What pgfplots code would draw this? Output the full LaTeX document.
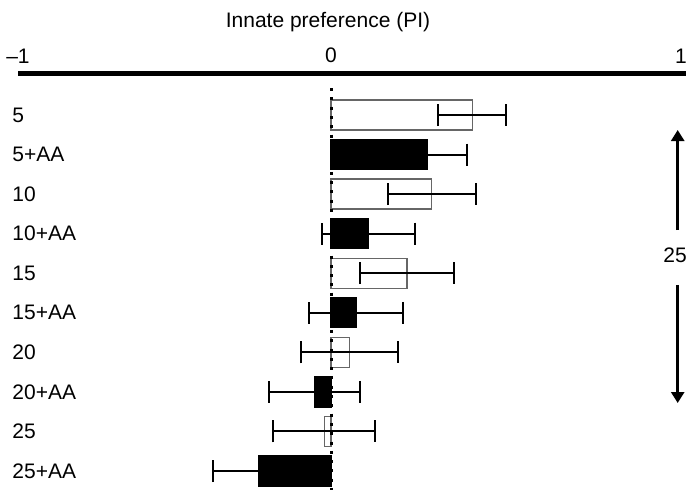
\documentclass[border=0pt]{standalone}
\usepackage{fontspec}
\setmainfont{Liberation Sans}
\usepackage{pgfplots}
\pgfplotsset{compat=1.18}
\usetikzlibrary{arrows.meta}
\pgfplotstableread{
c v e
0 0.404 0.097
2 0.288 0.125
4 0.217 0.134
6 0.052 0.139
8 -0.019 0.146
}\opendata
\pgfplotstableread{
c v e
1 0.276 0.113
3 0.107 0.134
5 0.071 0.134
7 -0.047 0.131
9 -0.207 0.130
}\aadata
\begin{document}
\fontsize{10.5}{12.6}\selectfont
\begin{tikzpicture}
\begin{axis}[
  name=ax,
  scale only axis, width=334pt, height=209.75pt,
  xmin=-0.8943, xmax=1.0143,
  ymin=-1.049, ymax=9.555, y dir=reverse,
  axis x line*=top, axis y line*=left,
  x axis line style={line width=2.25pt,-},
  y axis line style={draw=none},
  xtick={-0.8943,0,1}, xticklabels={--1,0,1},
  major tick length=0pt,
  tick style={draw=none},
  xticklabel style={font=\fontsize{10.5}{12.6}\selectfont, yshift=1.5pt},
  ytick={0,...,9},
  yticklabels={5,5+AA,10,10+AA,15,15+AA,20,20+AA,25,25+AA},
  yticklabel style={anchor=west, xshift=-6.5pt, font=\fontsize{10.5}{12.6}\selectfont},
  xbar, bar width=15pt, bar shift=0pt,
  clip=false,
]
\addplot[xbar, fill=white, draw=black!60, line width=0.65pt,
  error bars/.cd, x dir=both, x explicit,
  error bar style={line width=1pt, black, solid},
  error mark options={rotate=90, line width=1pt, mark size=5.5pt, black, solid}]
  table[x=v, y=c, x error=e] {\opendata};
\addplot[xbar, fill=black, draw=black, line width=0.65pt,
  error bars/.cd, x dir=both, x explicit,
  error bar style={line width=1pt, black, solid},
  error mark options={rotate=90, line width=1pt, mark size=5.5pt, black, solid}]
  table[x=v, y=c, x error=e] {\aadata};
\draw[line width=1.5pt, dash pattern=on 1.5pt off 3.15pt] (axis cs:0,-0.68) -- (axis cs:0,9.48);
\node[anchor=base] at (axis cs:-0.0086,-2.224) {Innate preference (PI)};
\draw[line width=1.3pt, -{Triangle[width=6.5pt,length=5.5pt]}] (axis cs:0.9906,2.907) -- (axis cs:0.9906,0.379);
\draw[line width=1.3pt, -{Triangle[width=6.5pt,length=5.5pt]}] (axis cs:0.9906,4.297) -- (axis cs:0.9906,7.28);
\node[anchor=west, inner sep=0pt] at (axis cs:0.9486,3.539) {25};
\end{axis}
\pgfresetboundingbox
\path[use as bounding box] ([xshift=-9pt]ax.south west) rectangle ([yshift=36.75pt]ax.north east);
\end{tikzpicture}
\end{document}
